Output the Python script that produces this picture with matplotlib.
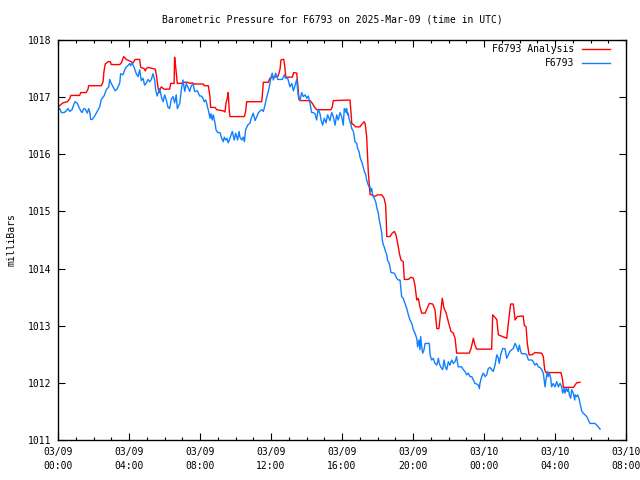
import matplotlib
matplotlib.use("Agg")
import matplotlib.pyplot as plt
from matplotlib.ticker import MultipleLocator

# Hours since 2025-03-09 00:00 UTC, pressure in millibars
analysis_hours = [0.00, 0.28, 0.52, 0.66, 0.72, 1.22, 1.28, 1.59, 1.69, 1.73, 2.44, 2.54, 2.59, 2.66, 2.82, 2.95,
    3.00, 3.48, 3.57, 3.70, 3.85, 4.13, 4.23, 4.35, 4.60, 4.66, 4.85, 4.92, 4.97, 5.07, 5.35, 5.48,
    5.56, 5.63, 5.69, 5.73, 5.82, 5.97, 6.29, 6.35, 6.54, 6.57, 6.63, 6.72, 6.95, 7.04, 7.32, 7.42,
    7.57, 7.66, 8.19, 8.24, 8.47, 8.56, 8.60, 8.85, 8.94, 9.31, 9.41, 9.46, 9.56, 9.59, 9.65, 9.69,
    10.50, 10.57, 10.63, 11.48, 11.57, 11.85, 11.94, 12.07, 12.38, 12.45, 12.51, 12.56, 12.64, 12.72,
    12.79, 12.83, 13.20, 13.28, 13.45, 13.50, 13.58, 13.63, 14.20, 14.33, 14.44, 14.57, 15.38, 15.45,
    15.51, 16.45, 16.51, 16.55, 16.64, 16.77, 17.01, 17.11, 17.24, 17.30, 17.39, 17.43, 17.48, 17.54,
    17.58, 17.67, 17.82, 18.01, 18.24, 18.37, 18.46, 18.50, 18.52, 18.70, 18.83, 18.95, 19.04, 19.14,
    19.23, 19.32, 19.45, 19.51, 19.74, 19.89, 20.02, 20.11, 20.21, 20.30, 20.39, 20.49, 20.68, 20.92,
    21.11, 21.24, 21.34, 21.46, 21.56, 21.65, 21.75, 21.86, 21.99, 22.14, 22.27, 22.37, 22.46, 23.17,
    23.27, 23.40, 23.49, 23.59, 24.43, 24.49, 24.72, 24.81, 25.28, 25.37, 25.50, 25.65, 25.75, 25.88,
    26.21, 26.27, 26.37, 26.44, 26.54, 26.69, 26.87, 27.25, 27.34, 27.42, 27.49, 28.34, 28.43, 28.47,
    29.03, 29.22, 29.41]
analysis_mb = [1016.83, 1016.90, 1016.92, 1016.97, 1017.03, 1017.03, 1017.08, 1017.08, 1017.14, 1017.20, 1017.20, 1017.27, 1017.45, 1017.58, 1017.62, 1017.62,
    1017.57, 1017.57, 1017.60, 1017.71, 1017.66, 1017.62, 1017.60, 1017.66, 1017.66, 1017.52, 1017.50, 1017.46, 1017.50, 1017.52, 1017.50, 1017.49,
    1017.35, 1017.18, 1017.08, 1017.12, 1017.18, 1017.14, 1017.14, 1017.24, 1017.24, 1017.70, 1017.53, 1017.24, 1017.24, 1017.26, 1017.26, 1017.24,
    1017.25, 1017.23, 1017.23, 1017.20, 1017.20, 1017.01, 1016.82, 1016.82, 1016.78, 1016.76, 1016.74, 1016.89, 1017.01, 1017.08, 1016.75, 1016.66,
    1016.66, 1016.75, 1016.92, 1016.92, 1017.26, 1017.26, 1017.33, 1017.35, 1017.36, 1017.42, 1017.49, 1017.65, 1017.66, 1017.66,
    1017.50, 1017.35, 1017.35, 1017.43, 1017.42, 1017.24, 1016.96, 1016.94, 1016.94, 1016.89, 1016.83, 1016.78, 1016.78, 1016.83,
    1016.94, 1016.95, 1016.72, 1016.54, 1016.52, 1016.48, 1016.48, 1016.52, 1016.57, 1016.54, 1016.31, 1016.05, 1015.70, 1015.46,
    1015.30, 1015.29, 1015.26, 1015.29, 1015.29, 1015.23, 1015.11, 1014.79, 1014.56, 1014.56, 1014.62, 1014.65, 1014.59, 1014.44,
    1014.27, 1014.15, 1014.12, 1013.81, 1013.81, 1013.85, 1013.83, 1013.71, 1013.45, 1013.48, 1013.33, 1013.22, 1013.22, 1013.39,
    1013.38, 1013.28, 1012.95, 1012.95, 1013.22, 1013.48, 1013.30, 1013.23, 1013.07, 1012.90, 1012.87, 1012.78, 1012.52, 1012.52,
    1012.60, 1012.78, 1012.66, 1012.59, 1012.59, 1013.19, 1013.11, 1012.84, 1012.78, 1013.04, 1013.38, 1013.38, 1013.10, 1013.16,
    1013.17, 1013.01, 1012.98, 1012.69, 1012.49, 1012.49, 1012.53, 1012.52, 1012.46, 1012.23, 1012.18, 1012.18, 1012.05, 1011.92,
    1011.92, 1012.00, 1012.01]

station_hours = [0.00, 0.10, 0.19, 0.34, 0.47, 0.56, 0.66, 0.79, 0.90, 0.97, 1.09, 1.17, 1.28, 1.35, 1.46, 1.54,
    1.65, 1.73, 1.80, 1.84, 1.93, 2.07, 2.21, 2.35, 2.44, 2.59, 2.72, 2.86, 2.91, 3.00, 3.10, 3.23,
    3.34, 3.48, 3.53, 3.66, 3.76, 3.85, 3.94, 4.04, 4.10, 4.17, 4.28, 4.41, 4.51, 4.60, 4.69, 4.79,
    4.88, 4.97, 5.07, 5.17, 5.26, 5.35, 5.45, 5.50, 5.59, 5.73, 5.82, 5.92, 6.01, 6.10, 6.20, 6.29,
    6.38, 6.48, 6.57, 6.66, 6.72, 6.86, 6.95, 7.04, 7.14, 7.23, 7.42, 7.51, 7.61, 7.70, 7.85, 7.98,
    8.07, 8.17, 8.24, 8.32, 8.38, 8.43, 8.51, 8.56, 8.62, 8.69, 8.75, 8.85, 8.90, 9.00, 9.13, 9.22,
    9.31, 9.37, 9.45, 9.52, 9.59, 9.69, 9.75, 9.82, 9.93, 10.01, 10.12, 10.20, 10.25, 10.35, 10.44, 10.50,
    10.57, 10.69, 10.82, 10.91, 11.00, 11.10, 11.19, 11.28, 11.38, 11.48, 11.57, 11.66, 11.76, 11.85, 11.94, 12.00,
    12.07, 12.13, 12.19, 12.26, 12.38, 12.64, 12.75, 12.83, 12.94, 13.07, 13.17, 13.26, 13.35, 13.45, 13.54, 13.63,
    13.73, 13.82, 13.92, 14.01, 14.10, 14.20, 14.29, 14.38, 14.48, 14.57, 14.66, 14.76, 14.82, 14.91, 15.00, 15.10,
    15.19, 15.32, 15.42, 15.51, 15.61, 15.70, 15.79, 15.89, 15.98, 16.07, 16.13, 16.17, 16.23, 16.26, 16.32, 16.35,
    16.39, 16.45, 16.51, 16.55, 16.64, 16.69, 16.73, 16.83, 16.88, 16.96, 17.01, 17.07, 17.14, 17.20, 17.26, 17.34,
    17.39, 17.45, 17.52, 17.58, 17.63, 17.67, 17.71, 17.76, 17.82, 17.86, 17.92, 17.97, 18.05, 18.08, 18.14, 18.18,
    18.24, 18.27, 18.33, 18.38, 18.42, 18.52, 18.57, 18.65, 18.70, 18.76, 18.95, 19.08, 19.17, 19.27, 19.36, 19.45,
    19.55, 19.65, 19.74, 19.83, 19.93, 20.02, 20.11, 20.21, 20.26, 20.34, 20.39, 20.43, 20.49, 20.55, 20.62, 20.68,
    20.92, 20.96, 21.05, 21.14, 21.24, 21.34, 21.43, 21.48, 21.56, 21.67, 21.75, 21.82, 21.90, 21.99, 22.08, 22.18,
    22.27, 22.37, 22.46, 22.50, 22.55, 22.74, 22.83, 22.93, 23.03, 23.12, 23.21, 23.31, 23.40, 23.49, 23.59, 23.68,
    23.74, 23.77, 23.87, 23.96, 24.06, 24.15, 24.24, 24.34, 24.43, 24.52, 24.62, 24.72, 24.81, 24.86, 24.94, 25.05,
    25.18, 25.28, 25.37, 25.46, 25.56, 25.65, 25.75, 25.84, 25.93, 25.99, 26.07, 26.12, 26.31, 26.41, 26.50, 26.69,
    26.78, 26.87, 26.97, 27.06, 27.15, 27.25, 27.34, 27.44, 27.49, 27.57, 27.62, 27.68, 27.76, 27.81, 27.90, 28.00,
    28.10, 28.19, 28.28, 28.38, 28.43, 28.51, 28.56, 28.62, 28.69, 28.75, 28.81, 28.88, 28.94, 29.03, 29.11, 29.14,
    29.22, 29.28, 29.35, 29.41, 29.50, 29.59, 29.69, 29.79, 29.88, 29.97, 30.25, 30.35, 30.44, 30.54]
station_mb = [1016.78, 1016.80, 1016.73, 1016.73, 1016.76, 1016.80, 1016.75, 1016.78, 1016.88, 1016.92, 1016.89, 1016.83, 1016.76, 1016.73, 1016.80, 1016.79,
    1016.72, 1016.80, 1016.72, 1016.61, 1016.61, 1016.67, 1016.75, 1016.83, 1016.96, 1017.02, 1017.13, 1017.18, 1017.31, 1017.24, 1017.18, 1017.11,
    1017.15, 1017.25, 1017.41, 1017.39, 1017.48, 1017.53, 1017.55, 1017.59, 1017.55, 1017.60, 1017.53, 1017.41, 1017.36, 1017.48, 1017.29, 1017.33,
    1017.21, 1017.24, 1017.31, 1017.27, 1017.31, 1017.41, 1017.30, 1017.13, 1017.02, 1017.15, 1017.01, 1016.92, 1017.04, 1016.95, 1016.82, 1016.80,
    1016.96, 1017.01, 1016.90, 1017.04, 1016.80, 1016.89, 1017.13, 1017.30, 1017.10, 1017.24, 1017.10, 1017.20, 1017.23, 1017.10, 1017.11, 1017.02,
    1017.02, 1016.98, 1016.92, 1016.95, 1016.89, 1016.82, 1016.72, 1016.63, 1016.71, 1016.60, 1016.69, 1016.54, 1016.43, 1016.38, 1016.38, 1016.28,
    1016.22, 1016.30, 1016.25, 1016.28, 1016.20, 1016.28, 1016.34, 1016.40, 1016.25, 1016.37, 1016.25, 1016.40, 1016.30, 1016.25, 1016.30, 1016.22,
    1016.43, 1016.51, 1016.55, 1016.65, 1016.72, 1016.59, 1016.65, 1016.72, 1016.76, 1016.78, 1016.75, 1016.86, 1017.00, 1017.10, 1017.24, 1017.35,
    1017.42, 1017.30, 1017.35, 1017.42, 1017.31, 1017.31, 1017.39, 1017.33, 1017.33, 1017.18, 1017.24, 1017.11, 1017.20, 1017.31, 1017.01, 1016.94,
    1017.08, 1017.01, 1017.04, 1016.98, 1017.02, 1016.89, 1016.73, 1016.73, 1016.71, 1016.60, 1016.79, 1016.71, 1016.60, 1016.51, 1016.63, 1016.55,
    1016.69, 1016.59, 1016.73, 1016.66, 1016.51, 1016.69, 1016.60, 1016.73, 1016.66, 1016.51, 1016.80, 1016.78, 1016.73, 1016.80, 1016.69, 1016.72,
    1016.63, 1016.57, 1016.51, 1016.45, 1016.40, 1016.31, 1016.22, 1016.19, 1016.10, 1016.05, 1015.96, 1015.90, 1015.84, 1015.77, 1015.70, 1015.64,
    1015.55, 1015.49, 1015.43, 1015.43, 1015.35, 1015.40, 1015.32, 1015.26, 1015.23, 1015.20, 1015.14, 1015.05, 1014.97, 1014.88, 1014.79, 1014.73,
    1014.62, 1014.50, 1014.41, 1014.38, 1014.33, 1014.24, 1014.14, 1014.10, 1014.03, 1013.93, 1013.92, 1013.83, 1013.80, 1013.80, 1013.51, 1013.48,
    1013.39, 1013.30, 1013.19, 1013.10, 1013.04, 1012.93, 1012.87, 1012.78, 1012.63, 1012.75, 1012.58, 1012.81, 1012.63, 1012.52, 1012.58, 1012.69,
    1012.69, 1012.49, 1012.40, 1012.43, 1012.34, 1012.31, 1012.43, 1012.34, 1012.28, 1012.23, 1012.40, 1012.28, 1012.23, 1012.37, 1012.31, 1012.40,
    1012.34, 1012.37, 1012.46, 1012.37, 1012.28, 1012.28, 1012.23, 1012.20, 1012.14, 1012.17, 1012.11, 1012.11, 1012.05, 1011.99, 1011.98, 1011.96,
    1011.90, 1011.99, 1012.11, 1012.17, 1012.11, 1012.14, 1012.25, 1012.27, 1012.23, 1012.20, 1012.31, 1012.49, 1012.43, 1012.34, 1012.49, 1012.60,
    1012.60, 1012.43, 1012.49, 1012.55, 1012.58, 1012.60, 1012.69, 1012.63, 1012.55, 1012.66, 1012.55, 1012.51, 1012.51, 1012.49, 1012.40, 1012.40,
    1012.37, 1012.31, 1012.34, 1012.28, 1012.27, 1012.23, 1012.17, 1011.93, 1012.05, 1012.20, 1012.11, 1012.17, 1012.08, 1011.93, 1011.99, 1011.93,
    1012.02, 1011.93, 1011.99, 1011.93, 1011.82, 1011.90, 1011.82, 1011.90, 1011.85, 1011.90, 1011.79, 1011.73, 1011.88, 1011.82, 1011.70, 1011.79,
    1011.76, 1011.79, 1011.73, 1011.64, 1011.51, 1011.47, 1011.44, 1011.41, 1011.35, 1011.29, 1011.29, 1011.26, 1011.23, 1011.19]

x_tick_hours = [0, 4, 8, 12, 16, 20, 24, 28, 32]
x_tick_labels = ["03/09\n00:00", "03/09\n04:00", "03/09\n08:00", "03/09\n12:00", "03/09\n16:00",
                 "03/09\n20:00", "03/10\n00:00", "03/10\n04:00", "03/10\n08:00"]
y_ticks = [1011, 1012, 1013, 1014, 1015, 1016, 1017, 1018]

title = "Barometric Pressure for F6793 on 2025-Mar-09 (time in UTC)"
series_names = ["F6793 Analysis", "F6793"]
series_colors = ["#ff0000", "#1080ff"]

FONT = "DejaVu Sans Mono"
FS = 7

fig = plt.figure(figsize=(6.4, 4.8), dpi=100)
ax = fig.add_axes([58/640, 40/480, 568/640, 400/480])

ax.plot(analysis_hours, analysis_mb, color=series_colors[0], lw=1.0)
ax.plot(station_hours, station_mb, color=series_colors[1], lw=1.0)

ax.set_xlim(0, 32)
ax.set_ylim(1011, 1018)
ax.set_xticks(x_tick_hours)
ax.set_xticklabels(x_tick_labels, fontfamily=FONT, fontsize=FS, linespacing=1.5)
ax.xaxis.set_minor_locator(MultipleLocator(1))
ax.set_yticks(y_ticks)
ax.set_yticklabels([str(v) for v in y_ticks], fontfamily=FONT, fontsize=FS)
ax.tick_params(which="major", direction="in", length=5, width=0.8, top=True, right=True, pad=5)
ax.tick_params(which="minor", direction="in", length=2.5, width=0.8, top=True, right=False)
for s in ax.spines.values():
    s.set_linewidth(1.0)

ax.set_ylabel("milliBars", fontfamily=FONT, fontsize=FS, labelpad=8)
fig.text(332/640, 1 - 19/480, title, ha="center", va="center", fontfamily=FONT, fontsize=FS)

# legend (text right-aligned, sample line to the right)
for i, (name, col) in enumerate(zip(series_names, series_colors)):
    yy = 0.9775 - i * 0.035
    ax.text(0.909, yy, name, ha="right", va="center", transform=ax.transAxes,
            fontfamily=FONT, fontsize=FS)
    ax.plot([0.923, 0.972], [yy, yy], color=col, lw=1.0, transform=ax.transAxes, clip_on=False)

fig.savefig("out.png", dpi=100)
